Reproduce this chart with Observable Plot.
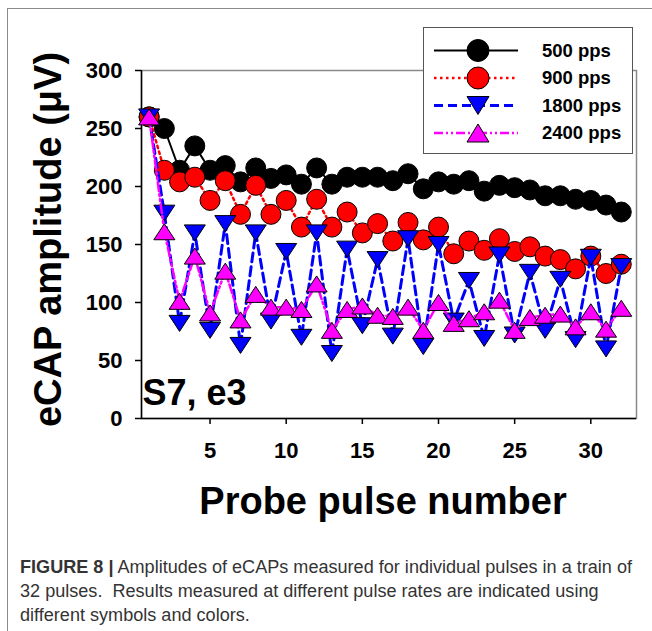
<!DOCTYPE html>
<html><head><meta charset="utf-8">
<script src="https://cdn.jsdelivr.net/npm/d3@7"></script>
<script src="https://cdn.jsdelivr.net/npm/@observablehq/plot@0.6"></script>
<style>
body{margin:0;background:#fff;width:652px;height:631px;overflow:hidden;position:relative;font-family:"Liberation Sans",Arial,sans-serif;}
#fig{position:absolute;left:7px;top:8px;width:700px;height:700px;border-left:1px solid #8a8a8a;border-top:1px solid #8a8a8a;}
#chart{position:absolute;left:0;top:0;}
#legend{position:absolute;left:423px;top:27px;width:208px;height:125px;border:1.5px solid #555;background:#fff;}
#caption{position:absolute;left:20px;top:555px;font-size:17.5px;line-height:24px;color:#333;font-family:"Liberation Sans",Arial,sans-serif;}
#caption div{white-space:pre;transform-origin:0 50%;}
</style></head>
<body>
<div id="fig"></div>
<div id="chart"></div>
<div id="legend"></div>
<div id="caption"></div>
<script>
// ---- data ----
const pulse = [1,2,3,4,5,6,7,8,9,10,11,12,13,14,15,16,17,18,19,20,21,22,23,24,25,26,27,28,29,30,31,32];
const seriesNames = ["500 pps","900 pps","1800 pps","2400 pps"];
const amp500  = [260,250,214,235,214,218,204,216,207,210,202,216,202,208,208,208,205,211,198,204,202,205,196,201,199,197,192,192,189,188,184,178];
const amp900  = [260,214,204,208,188,205,176,201,176,188,165,189,165,178,160,168,153,169,154,165,142,153,145,155,144,148,140,137,129,140,125,133];
const amp1800 = [260,177,82,160,76,168,63,160,84,144,70,160,56,146,80,137,71,155,62,150,84,119,69,141,72,126,76,120,68,139,60,131];
const amp2400 = [260,161,101,140,91,127,85,107,96,96,94,116,76,94,97,89,88,96,76,100,82,86,92,102,76,87,89,90,79,92,77,95];
const yTicks = [0,50,100,150,200,250,300];
const xTicks = [5,10,15,20,25,30];
const xTitle = "Probe pulse number";
const yTitle = "eCAP amplitude (\u03bcV)";
const panelLabel = "S7, e3";
const captionBold = "FIGURE 8 |";
const captionLines = [" Amplitudes of eCAPs measured for individual pulses in a train of",
  "32 pulses.  Results measured at different pulse rates are indicated using",
  "different symbols and colors."];

// ---- styles ----
function tri(w, h, up){
  return {draw(ctx){ if(up){ctx.moveTo(0,-h/2);ctx.lineTo(w/2,h/2);ctx.lineTo(-w/2,h/2);}
    else {ctx.moveTo(0,h/2);ctx.lineTo(w/2,-h/2);ctx.lineTo(-w/2,-h/2);} ctx.closePath();}};
}
const styles = [
  {values: amp500,  color:"#000000", dash:null,          width:2,   symbol:"circle", r:10, fill:"#000000"},
  {values: amp900,  color:"#ff0000", dash:"2.5,3.5",     width:2.5, symbol:"circle", r:10, fill:"#ff0000"},
  {values: amp1800, color:"#0000ff", dash:"9,5",         width:3,   symbol:tri(21,16,false), r:10, fill:"#0000ff"},
  {values: amp2400, color:"#ff00ff", dash:"9,3,2,3,2,3", width:2.5, symbol:tri(21,16,true),  r:10, fill:"#ff00ff"}
];

const seriesMarks = [];
styles.forEach((s, k) => {
  const rows = pulse.map((p, i) => ({pulse:p, amp:s.values[i], series:seriesNames[k]}));
  seriesMarks.push(Plot.line(rows, {x:"pulse", y:"amp", stroke:s.color, strokeWidth:s.width, strokeDasharray:s.dash}));
  seriesMarks.push(Plot.dot(rows, {x:"pulse", y:"amp", symbol:()=>s.symbol, r:s.r, fill:s.fill, stroke:"#000", strokeWidth:1}));
});

const chart = Plot.plot({
  width:652, height:540,
  marginLeft:141, marginRight:16, marginTop:70, marginBottom:122,
  x:{domain:[0.5,33]},
  y:{domain:[0,300]},
  style:{fontFamily:"Liberation Sans, Arial, sans-serif", background:"transparent", color:"#000", overflow:"visible"},
  marks:[
    Plot.frame({stroke:"#8a8a8a", strokeWidth:1.5}),
    Plot.ruleX([0.5], {stroke:"#000", strokeWidth:1.5}),
    Plot.ruleY([0], {stroke:"#000", strokeWidth:1.5}),
    Plot.axisY(yTicks, {tickSize:6, tickPadding:13, fontSize:22, fontWeight:"bold", label:null, strokeWidth:1.5}),
    Plot.axisX(xTicks, {tickSize:6, tickPadding:18, fontSize:22, fontWeight:"bold", label:null, strokeWidth:1.5}),
    Plot.text([yTitle], {frameAnchor:"left", rotate:-90, dx:-93, dy:-5, fontSize:38, fontWeight:"bold", lineAnchor:"middle", textAnchor:"middle"}),
    Plot.text([xTitle], {frameAnchor:"bottom", dx:-6, dy:83, fontSize:38, fontWeight:"bold", lineAnchor:"middle", textAnchor:"middle"}),
    Plot.text([panelLabel], {frameAnchor:"bottom-left", dx:1, dy:-25.5, fontSize:36, fontWeight:"bold", lineAnchor:"middle", textAnchor:"start"}),
    ...seriesMarks
  ]
});
document.getElementById("chart").appendChild(chart);

// ---- legend ----
const lsvg = d3.select("#legend").append("svg").attr("width",208).attr("height",125).style("display","block");
const legSyms = [
  (g)=>g.append("circle").attr("r",11),
  (g)=>g.append("circle").attr("r",11),
  (g)=>g.append("path").attr("d","M0,9L11,-9L-11,-9Z"),
  (g)=>g.append("path").attr("d","M0,-9L11,9L-11,9Z")
];
styles.forEach((s,k)=>{
  const y = 22.5 + k*27.5;
  lsvg.append("line").attr("x1",10).attr("x2",94).attr("y1",y).attr("y2",y)
    .attr("stroke",s.color).attr("stroke-width",s.width).attr("stroke-dasharray",s.dash);
  const g = lsvg.append("g").attr("transform",`translate(54,${y})`);
  legSyms[k](g).attr("fill",s.fill).attr("stroke","#000").attr("stroke-width",1);
  lsvg.append("text").attr("x",118).attr("y",y).attr("dy","0.35em")
    .attr("font-size",18.5).attr("font-weight","bold").attr("fill","#000")
    .attr("font-family","Liberation Sans, Arial, sans-serif").text(seriesNames[k]);
});

// ---- caption ----
const cap = d3.select("#caption");
const divs = captionLines.map((t,i)=>{
  const d = cap.append("div").style("display","inline-block");
  if(i===0){ d.append("b").text(captionBold); }
  d.append("span").text(t);
  cap.append("br");
  return d;
});
const scale = 612 / divs[0].node().getBoundingClientRect().width;
divs.forEach(d => d.style("transform", `scaleX(${scale})`));
</script>
</body></html>
